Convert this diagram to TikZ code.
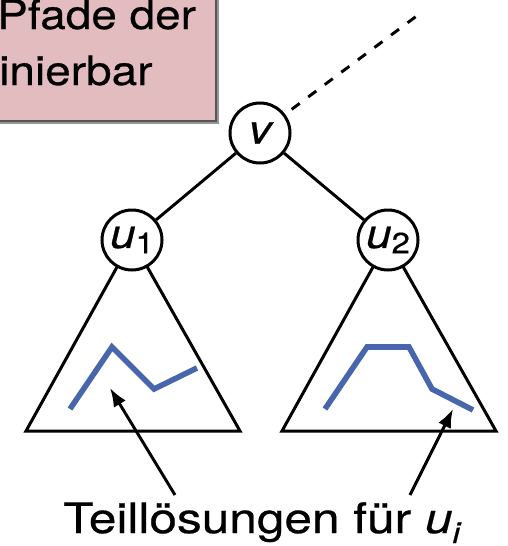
\documentclass[tikz,border=0pt]{standalone}
\usepackage{fontspec}
\setmainfont{TeX Gyre Heros}[FakeStretch=1.13,FakeBold=0.5]
\newfontfamily\widefont{TeX Gyre Heros}[FakeStretch=1.18,FakeBold=0.5]
\usetikzlibrary{arrows.meta,backgrounds}
\definecolor{boxpink}{RGB}{226,188,190}
\definecolor{boxedge}{RGB}{85,85,85}
\definecolor{boxshadow}{RGB}{150,150,150}
\definecolor{pathblue}{RGB}{72,102,172}
\newcommand\bigfont{\fontsize{30.5}{36}\selectfont}
\newcommand\labelfont{\widefont\fontsize{31.5}{36}\selectfont}
\newcommand\subfont{\fontsize{22}{22}\selectfont}
\begin{document}
\begin{tikzpicture}[x=0.75pt,y=-0.75pt,
  vertex/.style={circle,draw,line width=2.25pt,fill=white,minimum size=45pt,inner sep=0pt,font=\bigfont},
  edge/.style={line width=2.2pt},
  tri/.style={line width=2.25pt,line join=miter},
  sol/.style={line width=4.2pt,draw=pathblue},
  pointer/.style={line width=2.2pt,-{Latex[length=14pt,width=10.5pt]}},
  txt/.style={inner sep=0pt,font=\bigfont}]
\useasboundingbox (0,0) rectangle (507,546);
\clip (0,0) rectangle (507,546);
% info box (cut by the picture border)
\fill[boxshadow] (-20,-20) rectangle (219,123.5);
\filldraw[fill=boxpink,draw=boxedge,line width=1.5pt] (-20,-20) rectangle (216,120.5);
\node[txt,anchor=base west] (l1) at (-3,29) {Pfade der};
\node[txt,anchor=base west] (l2) at (-1,85) {inierbar};
% tree nodes
\node[vertex] (v) at (260,133) {\itshape v};
\node[vertex] (u1) at (132,240) {{\itshape u}\raisebox{-4pt}{\subfont 1}};
\node[vertex] (u2) at (388,240) {{\itshape u}\raisebox{-4pt}{\subfont 2}};
\coordinate (up) at (422,12);
\draw[edge,dash pattern=on 7.5pt off 8pt,dash phase=-6pt] (v) -- (up);
\draw[edge] (v) -- (u1);
\draw[edge] (v) -- (u2);
% subtrees
\coordinate (a1) at (26,431);
\coordinate (b1) at (240,431);
\coordinate (a2) at (282,431);
\coordinate (b2) at (496,431);
\begin{pgfonlayer}{background}
\draw[tri] (u1.center) -- (a1) -- (b1) -- cycle;
\draw[tri] (u2.center) -- (a2) -- (b2) -- cycle;
\end{pgfonlayer}
% partial solutions
\draw[sol] (70,409) -- (112,347) -- (154,389) -- (197,368);
\draw[sol] (325,409) -- (367,347) -- (409,347) -- (432,389) -- (473,410);
% label and pointers
\node[inner sep=0pt,font=\labelfont,anchor=base west] (lbl) at (63,533) {Teillösungen für {\itshape u}\raisebox{-7.5pt}{\widefont\subfont\itshape i}};
\coordinate (s1) at (175,495);
\coordinate (e1) at (110,388);
\coordinate (s2) at (410,495);
\coordinate (e2) at (453,409);
\draw[pointer] (s1) -- (e1);
\draw[pointer] (s2) -- (e2);
\end{tikzpicture}
\end{document}
